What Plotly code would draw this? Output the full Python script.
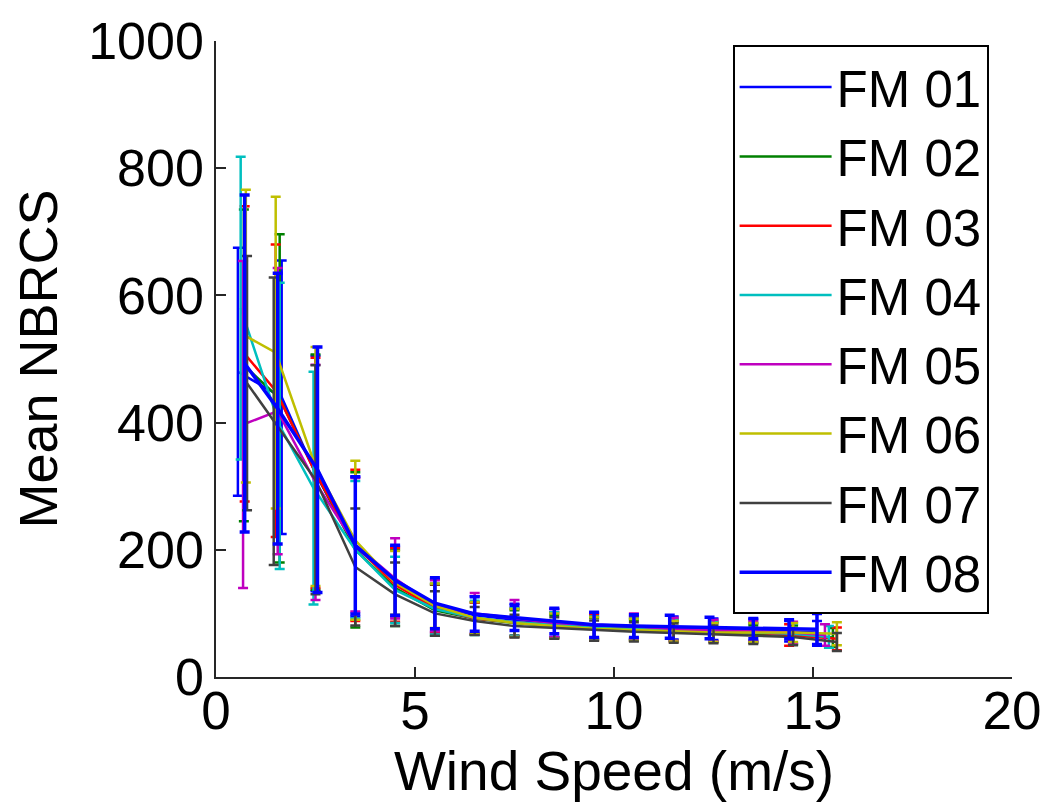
import plotly.graph_objects as go

names = ["FM 01", "FM 02", "FM 03", "FM 04", "FM 05", "FM 06", "FM 07", "FM 08"]
colors = ["#0000ff", "#008000", "#ff0000", "#00bfbf", "#bf00bf", "#bfbf00", "#404040", "#0000ff"]

x_fm01 = [0.55, 1.65, 2.5, 3.5, 4.5, 5.5, 6.5, 7.5, 8.5, 9.5, 10.5, 11.5, 12.5, 13.5, 14.4, 15.1]
x_fm02 = [0.70, 1.60, 2.5, 3.5, 4.5, 5.5, 6.5, 7.5, 8.5, 9.5, 10.5, 11.5, 12.5, 13.5, 14.5, 15.5]
x_fm03 = [0.72, 1.50, 2.5, 3.5, 4.5, 5.5, 6.5, 7.5, 8.5, 9.5, 10.5, 11.5, 12.5, 13.5, 14.4, 15.6]
x_fm04 = [0.62, 1.60, 2.45, 3.5, 4.5, 5.5, 6.5, 7.5, 8.5, 9.5, 10.5, 11.5, 12.5, 13.5, 14.5, 15.4]
x_fm05 = [0.68, 1.55, 2.5, 3.5, 4.5, 5.5, 6.5, 7.5, 8.5, 9.5, 10.5, 11.5, 12.5, 13.5, 14.5, 15.3]
x_fm06 = [0.75, 1.50, 2.5, 3.5, 4.5, 5.5, 6.5, 7.5, 8.5, 9.5, 10.5, 11.5, 12.5, 13.5, 14.5, 15.6]
x_fm07 = [0.78, 1.45, 2.5, 3.5, 4.5, 5.5, 6.5, 7.5, 8.5, 9.5, 10.5, 11.5, 12.5, 13.5, 14.5, 15.6]
x_fm08 = [0.72, 1.55, 2.55, 3.5, 4.5, 5.5, 6.5, 7.5, 8.5, 9.5, 10.5, 11.4, 12.4, 13.5, 14.4, 15.1]

mean_fm01 = [480, 440, 320, 205, 150, 112, 97, 90, 85, 80, 78, 77, 75, 74, 72, 70]
mean_fm02 = [490, 438, 322, 200, 140, 105, 92, 85, 80, 76, 74, 72, 70, 68, 66, 62]
mean_fm03 = [508, 450, 321, 207, 145, 108, 92, 86, 82, 77, 75, 73, 71, 70, 66, 60]
mean_fm04 = [580, 395, 297, 200, 137, 107, 93, 86, 82, 77, 75, 74, 72, 70, 68, 63]
mean_fm05 = [397, 418, 306, 208, 155, 112, 100, 92, 85, 82, 80, 75, 73, 72, 70, 66]
mean_fm06 = [536, 510, 331, 215, 148, 112, 93, 85, 80, 76, 74, 72, 70, 70, 70, 68]
mean_fm07 = [462, 402, 310, 173, 130, 100, 88, 80, 77, 73, 71, 69, 67, 65, 63, 55]
mean_fm08 = [493, 422, 326, 207, 152, 116, 99, 93, 88, 82, 80, 79, 77, 76, 75, 75]

std_fm01 = [195, 215, 185, 110, 55, 42, 30, 25, 22, 20, 18, 18, 17, 17, 16, 18]
std_fm02 = [245, 258, 185, 122, 60, 40, 25, 20, 18, 17, 16, 15, 15, 14, 15, 15]
std_fm03 = [232, 230, 181, 119, 58, 38, 25, 22, 20, 20, 18, 17, 16, 15, 17, 18]
std_fm04 = [238, 225, 183, 108, 52, 40, 27, 22, 20, 18, 17, 17, 16, 15, 16, 17]
std_fm05 = [257, 225, 185, 105, 63, 40, 32, 29, 22, 20, 20, 18, 17, 16, 17, 17]
std_fm06 = [230, 245, 188, 125, 50, 35, 25, 22, 20, 18, 17, 16, 15, 15, 15, 18]
std_fm07 = [200, 226, 180, 92, 50, 35, 22, 18, 17, 16, 15, 15, 14, 13, 13, 14]
std_fm08 = [265, 213, 193, 108, 55, 40, 27, 20, 20, 20, 18, 18, 17, 16, 15, 25]

xs = [x_fm01, x_fm02, x_fm03, x_fm04, x_fm05, x_fm06, x_fm07, x_fm08]
means = [mean_fm01, mean_fm02, mean_fm03, mean_fm04, mean_fm05, mean_fm06, mean_fm07, mean_fm08]
stds = [std_fm01, std_fm02, std_fm03, std_fm04, std_fm05, std_fm06, std_fm07, std_fm08]

FONT = "Liberation Sans, Arial, sans-serif"

fig = go.Figure()
for i, name in enumerate(names):
    w = 3.5 if i == 7 else 2.5
    fig.add_trace(go.Scatter(
        x=xs[i], y=means[i], name=name, mode="lines",
        line=dict(color=colors[i], width=w),
        error_y=dict(type="data", array=stds[i], visible=True,
                     color=colors[i], thickness=w, width=5),
    ))

fig.update_layout(
    width=1053, height=803,
    margin=dict(l=216, r=37, t=32, b=126),
    paper_bgcolor="white", plot_bgcolor="white",
    font=dict(family=FONT, size=52, color="black"),
    showlegend=True,
    legend=dict(
        x=0.649, y=0.993, xanchor="left", yanchor="top",
        bordercolor="black", borderwidth=2, bgcolor="white",
        font=dict(family=FONT, size=51, color="black"),
        itemwidth=92, tracegroupgap=0,
    ),
)
fig.update_xaxes(
    range=[0, 20], tickvals=[0, 5, 10, 15, 20], ticks="inside", ticklen=10,
    tickcolor="#262626", tickwidth=1.5,
    showline=True, linecolor="#262626", linewidth=1.5, mirror=False,
    showgrid=False, zeroline=False,
    ticklabelstandoff=-13,
    tickfont=dict(family=FONT, size=53, color="black"),
    title=dict(text="Wind Speed (m/s)", font=dict(family=FONT, size=55, color="black"), standoff=0),
)
fig.update_yaxes(
    range=[0, 1000], tickvals=[0, 200, 400, 600, 800, 1000], ticks="inside", ticklen=10,
    tickcolor="#262626", tickwidth=1.5,
    showline=True, linecolor="#262626", linewidth=1.5, mirror=False,
    showgrid=False, zeroline=False,
    tickfont=dict(family=FONT, size=52, color="black"),
    title=dict(text="Mean NBRCS", font=dict(family=FONT, size=54, color="black"), standoff=13),
)

fig.write_html("out.html")
